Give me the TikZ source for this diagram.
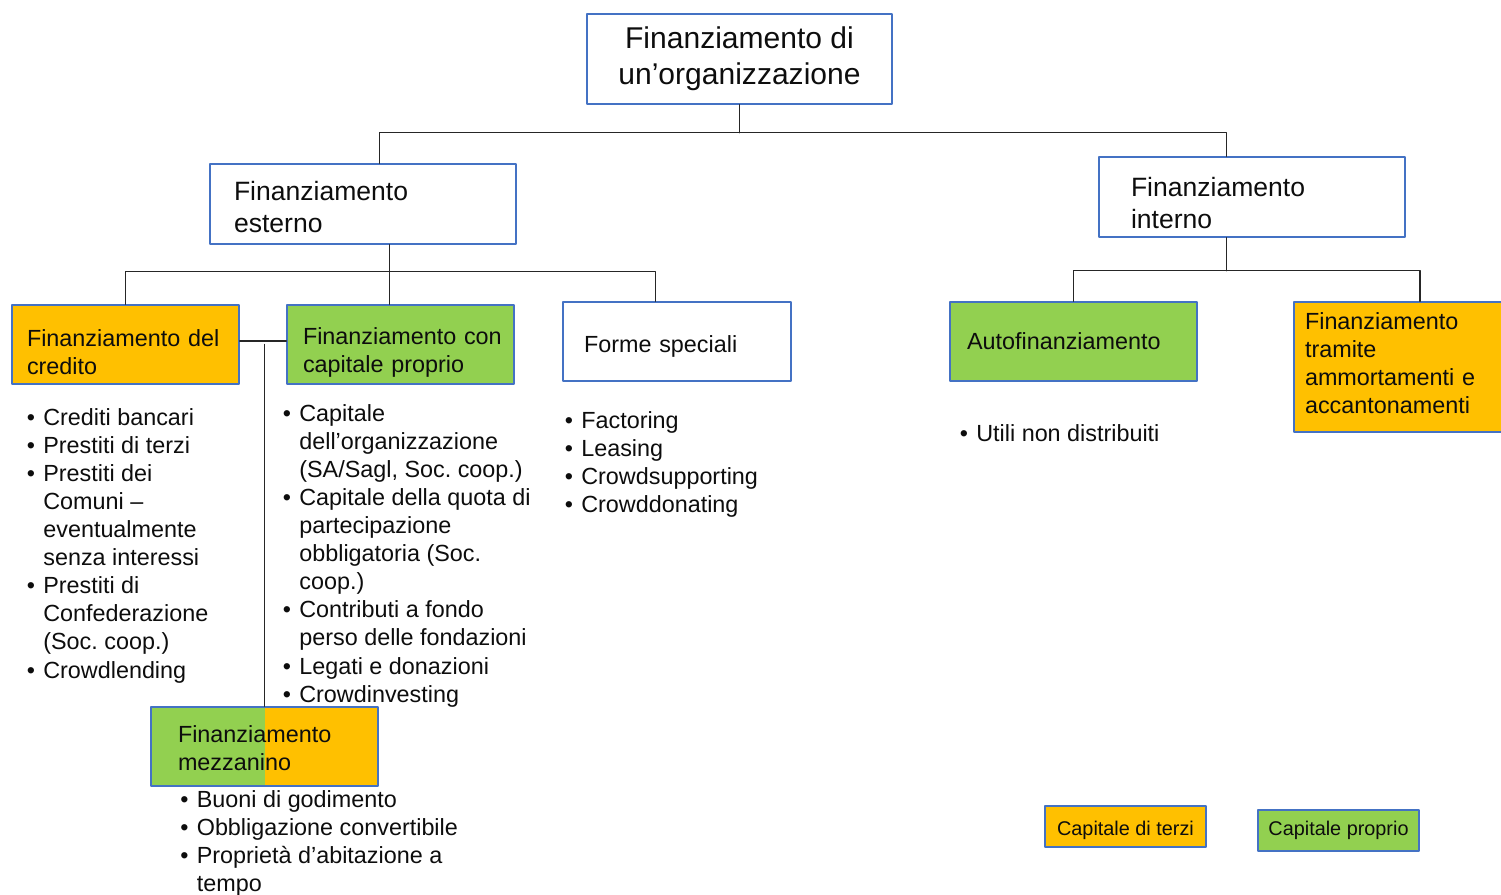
\documentclass[tikz,border=0pt]{standalone}
\usepackage{fontspec}
\setmainfont{Liberation Sans}
\usepackage{tikz}
\usetikzlibrary{calc}
\definecolor{creditorange}{RGB}{255,192,0}
\definecolor{equitygreen}{RGB}{146,208,80}
\definecolor{boxblue}{RGB}{68,114,196}
\definecolor{inkgray}{RGB}{13,13,13}
\newcommand{\topsize}{\fontsize{17.1pt}{20.4pt}\selectfont}
\newcommand{\headsize}{\fontsize{15.1pt}{18.1pt}\selectfont}
\newcommand{\bodysize}{\fontsize{13.3pt}{16pt}\selectfont}
\newcommand{\legendsize}{\fontsize{11.3pt}{13.6pt}\selectfont}
% One bullet cell, fixed width so the item texts line up.
\newcommand{\bul}{\makebox[0.33cm][l]{\textbullet}}
\newcommand{\itemlist}[1]{\begin{tabular}[t]{@{}l@{}l@{}}#1\end{tabular}}
\frenchspacing

\begin{document}
\begin{tikzpicture}[x=0.02cm, y=-0.02cm, line cap=round, line join=round,
  box/.style={draw=boxblue, line width=0.8pt, inner ysep=0pt, align=left,
    text=inkgray, font=\bodysize, minimum height=1.58cm},
  % A taller first line pushes the text block down inside its box.
  drop/.style={text height=#1},
  link/.style={draw=black!85, line width=0.75pt},
  bulletlist/.style={anchor=base west, inner sep=0pt, text=inkgray,
    font=\bodysize},
  splitfill/.style={fill=creditorange, path picture={%
    \fill[equitygreen] (path picture bounding box.south west)
      rectangle (path picture bounding box.north);}}]
  \useasboundingbox (0,0) rectangle (1501,894);

  % Bullet lists first: the mezzanine box lies over the last descender.
  \node[bulletlist] (creditolist) at (26.5,425) {\itemlist{%
    \bul & Crediti bancari\\
    \bul & Prestiti di terzi\\
    \bul & Prestiti dei\\
         & Comuni –\\
         & eventualmente\\
         & senza interessi\\
    \bul & Prestiti di\\
         & Confederazione\\
         & (Soc. coop.)\\
    \bul & Crowdlending}};
  \node[bulletlist] (capitalelist) at (282.5,421) {\itemlist{%
    \bul & Capitale\\
         & dell’organizzazione\\
         & (SA/Sagl, Soc. coop.)\\
    \bul & Capitale della quota di\\
         & partecipazione\\
         & obbligatoria (Soc.\\
         & coop.)\\
    \bul & Contributi a fondo\\
         & perso delle fondazioni\\
    \bul & Legati e donazioni\\
    \bul & Crowdinvesting}};
  \node[bulletlist] (formelist) at (564.5,428) {\itemlist{%
    \bul & Factoring\\
    \bul & Leasing\\
    \bul & Crowdsupporting\\
    \bul & Crowddonating}};
  \node[bulletlist] (autolist) at (959.5,441) {\itemlist{%
    \bul & Utili non distribuiti}};
  \node[bulletlist] (mezzlist) at (180,807) {\itemlist{%
    \bul & Buoni di godimento\\
    \bul & Obbligazione convertibile\\
    \bul & Proprietà d’abitazione a\\
         & tempo}};

  % Top two levels.
  \node[box, align=center, font=\topsize, minimum width=6.1cm,
    minimum height=1.8cm] (top) at (739.5,59)
    {Finanziamento di\\un’organizzazione};
  \node[box, font=\headsize, minimum height=1.6cm, inner xsep=0.48cm,
    text width=5.16cm, drop=0.51cm] (esterno) at (363,204)
    {Finanziamento\\esterno};
  \node[box, font=\headsize, minimum height=1.6cm, inner xsep=0.64cm,
    text width=4.84cm, drop=0.63cm] (interno) at (1252,197)
    {Finanziamento\\interno};

  % Third level.
  \node[box, fill=creditorange, inner xsep=0.3cm, text width=3.94cm,
    drop=0.66cm] (credito) at (125.5,344.5) {Finanziamento~del\\credito};
  \node[box, fill=equitygreen, inner xsep=0.32cm, text width=3.9cm,
    drop=0.66cm] (capitale) at (400.5,344.5)
    {Finanziamento~con\\capitale proprio};
  \node[box, inner xsep=0.42cm, text width=3.72cm, drop=0.54cm]
    (forme) at (677,341.5) {Forme speciali};
  \node[box, fill=equitygreen, inner xsep=0.34cm, text width=4.26cm]
    (autofin) at (1073.5,341.5) {Autofinanziamento};
  \node[box, fill=creditorange, inner xsep=0.22cm, text width=4.6cm,
    minimum height=2.6cm, drop=0.18cm] (ammort) at (1420,367)
    {Finanziamento\\tramite\\ammortamenti~e\\accantonamenti};
  \node[box, splitfill, inner xsep=0.54cm, text width=3.46cm, drop=0.42cm]
    (mezz) at (264.5,746.5) {Finanziamento\\mezzanino};

  % Legend.
  \node[box, fill=creditorange, align=center, font=\legendsize,
    minimum width=3.22cm, minimum height=0.82cm, drop=0.45cm] (legterzi)
    at (1125.5,826.5) {Capitale di terzi};
  \node[box, fill=equitygreen, align=center, font=\legendsize,
    minimum width=3.22cm, minimum height=0.82cm] (legproprio)
    at (1338.5,830.5) {Capitale proprio};

  % Tree connectors; the drops sit off the box centres as in the original.
  \coordinate (busA) at ($(top.south)+(0,28)$);
  \draw[link] (top.south) -- (busA);
  \draw[link] ($(esterno.north west)+(170,0)$) |- (busA)
    -| ($(interno.north west)+(128,0)$);

  \coordinate (busB) at ($(esterno.south west)+(180,27)$);
  \draw[link] ($(esterno.south west)+(180,0)$) -- (busB);
  \draw[link] (credito.north) |- (busB) -| ($(forme.north west)+(93,0)$);
  \draw[link] (busB) -- (busB |- capitale.north);

  \coordinate (busC) at ($(interno.south west)+(128,33)$);
  \draw[link] ($(interno.south west)+(128,0)$) -- (busC);
  \draw[link] (autofin.north) |- (busC) -| (ammort.north);

  % Mezzanine hangs between debt and equity.
  \draw[link] ([yshift=0.07cm]credito.east) -- ([yshift=0.07cm]capitale.west);
  \draw[link] (mezz.north) -- (mezz.north |- credito.east);
\end{tikzpicture}
\end{document}
